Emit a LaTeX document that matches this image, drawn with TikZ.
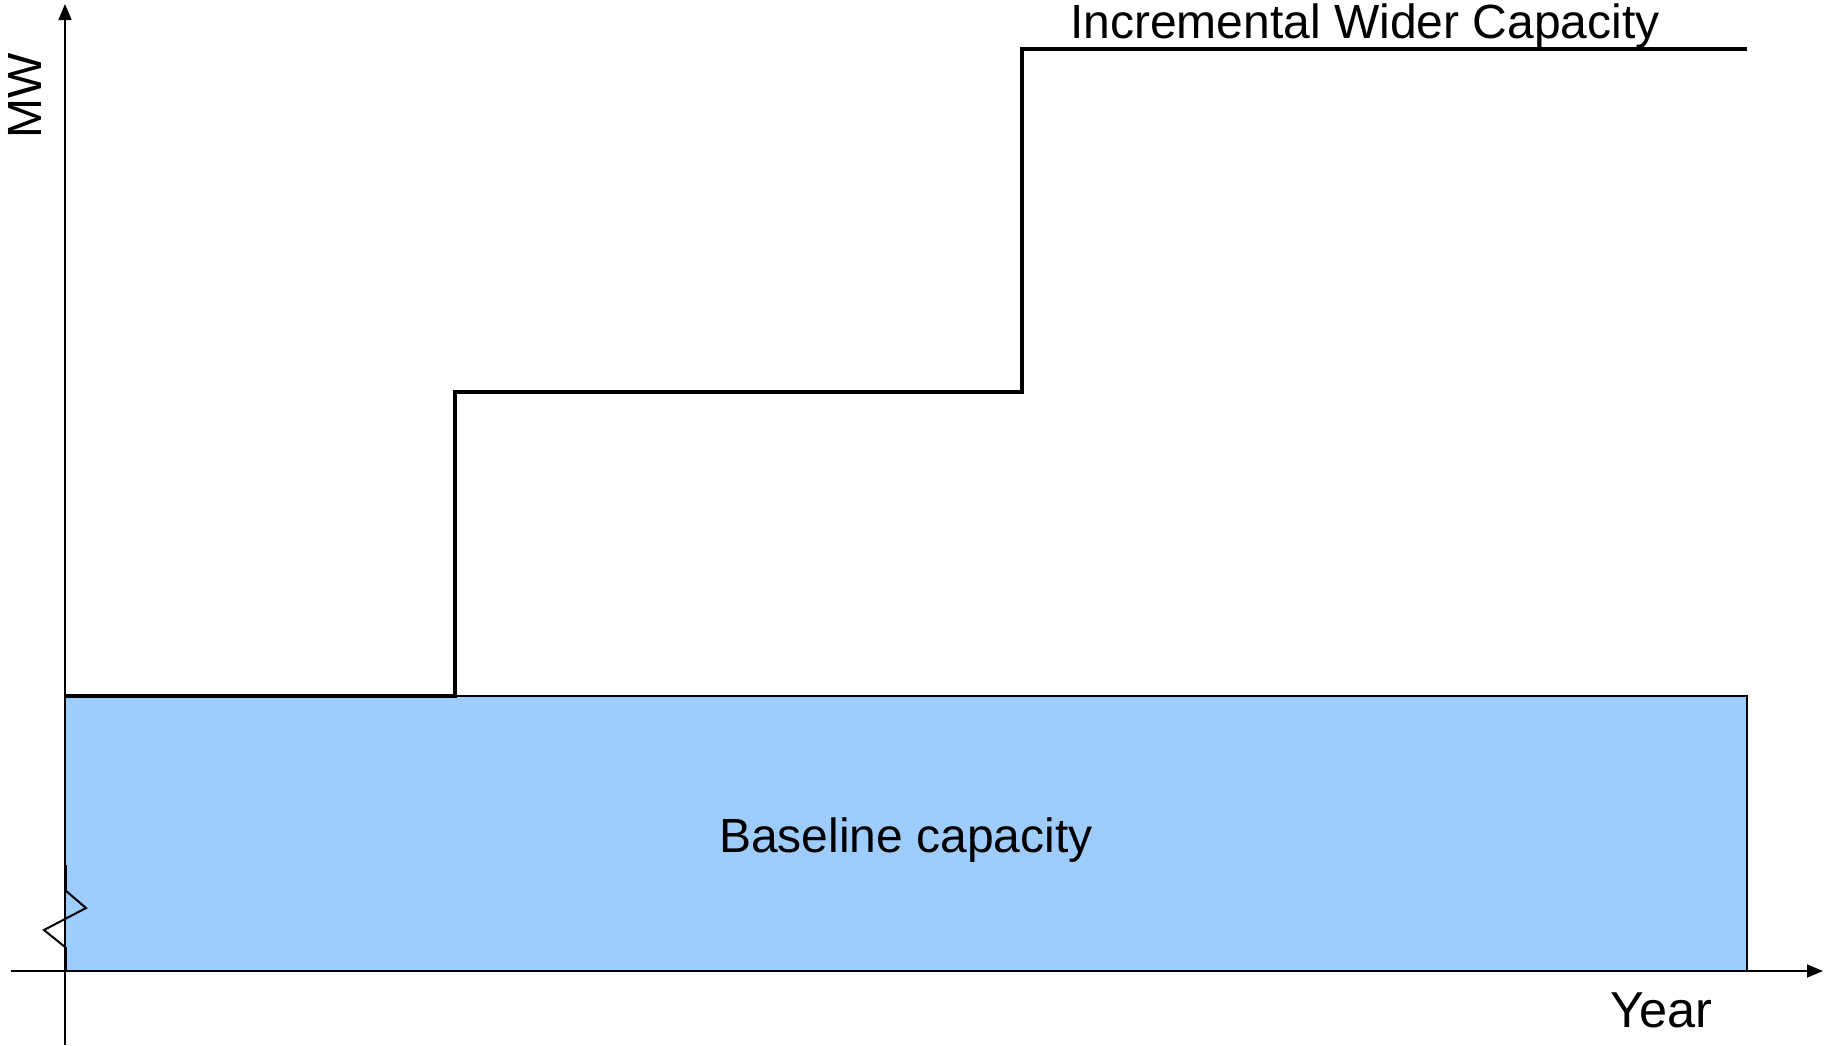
\documentclass[tikz,border=0pt]{standalone}
\usepackage{fontspec}
\setmainfont{Liberation Sans}
\usetikzlibrary{arrows.meta}
\definecolor{basefill}{HTML}{9ECCFD}
\tikzset{
  axis/.style={line width=1.6pt, -{Triangle[length=16pt,width=13pt]}},
  stepline/.style={line width=4.4pt, line join=miter},
  breakmark/.style={line width=2pt, line join=miter},
  label/.style={inner sep=0pt, font=\fontsize{48}{52}\selectfont},
}
\begin{document}
\begin{tikzpicture}[x=1pt,y=-1pt]
  \useasboundingbox (0,0) rectangle (1824,1045);

  % axis end points
  \coordinate (origin) at (65,971);
  \coordinate (ytop) at (65,4);
  \coordinate (ybot) at (65,1045);
  \coordinate (xleft) at (11,971);
  \coordinate (xright) at (1823,971);

  % baseline capacity block
  \node[draw=black, line width=1.6pt, fill=basefill, inner sep=0pt, outer sep=0pt,
        minimum width=1682pt, minimum height=275pt, anchor=south west]
        (base) at (origin) {};
  \node[label, anchor=base] (basetext) at (906,852) {Baseline capacity};

  % axes
  \draw[axis] (ybot) -- (ytop);
  \draw[axis] (xleft) -- (xright);

  % capacity steps
  \coordinate (s1) at (455,696);
  \coordinate (s2) at (455,392);
  \coordinate (s3) at (1022,392);
  \coordinate (s4) at (1022,49);
  \coordinate (s5) at (1747,49);
  \draw[stepline] (65,696) -- (s1) -- (s2) -- (s3) -- (s4) -- (s5);

  % axis break mark
  \draw[line width=3pt] (65,865) -- (65,890);
  \draw[breakmark] (65,890) -- (86,908) -- (44,930) -- (65,947);
  \draw[line width=3pt] (65,947) -- (origin);

  % labels
  \node[label, rotate=90, anchor=south] (mw) at (42,96) {MW};
  \node[label, anchor=base west] (inctext) at (1070,38) {Incremental Wider Capacity};
  \node[label, anchor=base west, font=\fontsize{50.5}{54}\selectfont]
        (year) at (1610,1027) {Year};
\end{tikzpicture}
\end{document}
